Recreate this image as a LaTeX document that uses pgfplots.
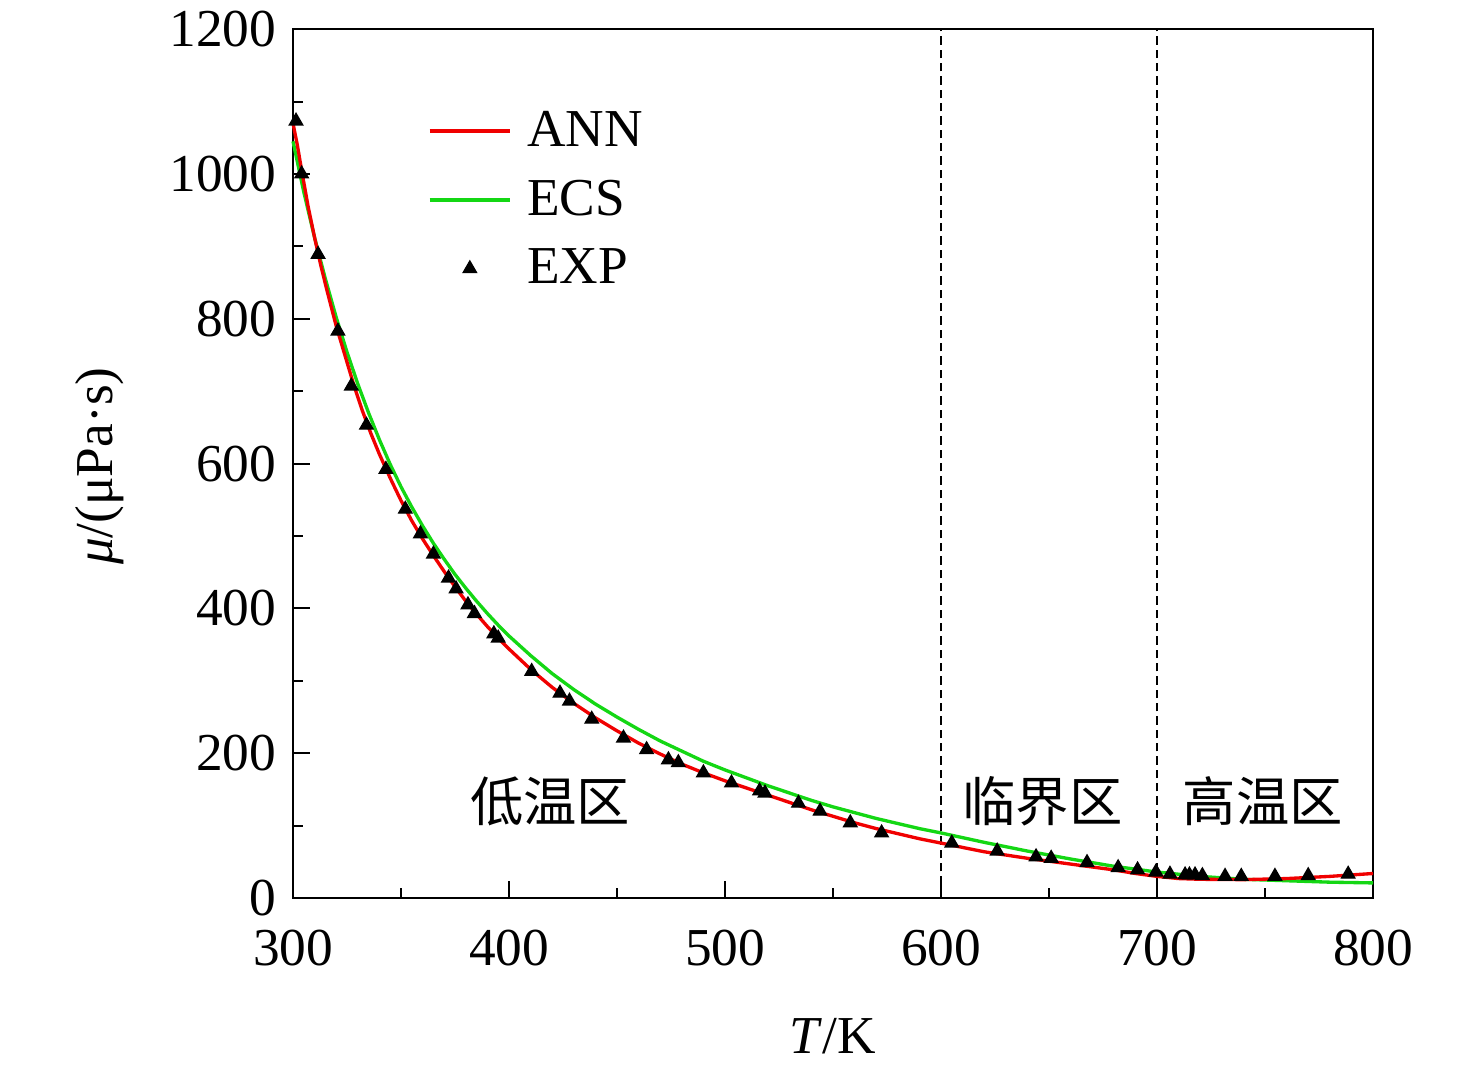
\documentclass[border=0pt]{standalone}
\usepackage{fontspec}
\setmainfont{Liberation Serif}
\newfontfamily\cjk{Noto Sans CJK SC}
\usepackage{pgfplots}
\usepackage{pgfplotstable}
\pgfplotsset{compat=1.18}
\definecolor{annred}{RGB}{240,0,0}
\definecolor{ecsgreen}{RGB}{20,215,20}
\pgfplotsset{
  linelegend/.style={legend image code/.code={\draw[##1] (0cm,0cm) -- (0.85cm,0cm);}},
  marklegend/.style={legend image code/.code={\draw[mark repeat=2,mark phase=2,##1] plot coordinates {(0cm,0cm) (0.425cm,0cm) (0.85cm,0cm)};}},
}

\pgfplotstableread{
T mu
300 1070
302 1040
304 1005
307 955
310 912
313 872
316 836
320 790
324 750
328 710
332 674
336 642
340 613
345 580
350 549
355 521
360 496
365 473
370 451
375 430
380 410
385 392
390 375
395 359
400 344
410 316
420 291
430 269
440 249
450 231
460 214
470 199
480 185
490 173
500 162
510 152
520 142
530 132
540 122
550 113
560 104
570 96
580 89
590 82
600 76
620 64
640 55
660 47
680 39
690 34
700 30
710 27
720 26
740 25.5
760 27
780 30
800 34
}\ann

\pgfplotstableread{
T mu
300 1045
305 975
310 912
315 855
320 802
325 754
330 710
335 670
340 633
345 599
350 568
355 540
360 514
365 490
370 468
375 447
380 428
385 410
390 393
395 377
400 362
410 335
420 310
430 288
440 268
450 250
460 233
470 217
480 203
490 189
500 177
510 166
520 155
530 145
540 135
550 126
560 118
570 110
580 103
590 96
600 90
620 77
640 65
660 54
680 44
700 36
720 30
740 26
760 24
780 22
800 21
}\ecs

\pgfplotstableread{
T mu
301.4 1073
304 1000
311.6 889
320.8 783
327 707
334 653
343 592
352 537
359 503
365 475
372 442
375.5 427
381 405
384 393
393 365
395 359
410.5 313
423.6 283
428 272
438.3 247
453 221
463.7 205
473.8 191
478.4 187
490 173
503 159
516 148
518.5 145
534 131
544 120
558 104
572.5 90
605 76
626 65
644 57
651 55
667.6 49
682 42
691 39
699.5 36
706 33
713 32
715 32
717.6 32
721 31
731.5 30
739 30
754.6 30
770 31
788.5 33
}\expdata

\begin{document}
\begin{tikzpicture}[font=\fontsize{16}{19}\selectfont]
\begin{axis}[
  scale only axis,
  width=324pt, height=260.7pt,
  xmin=300, xmax=800, ymin=0, ymax=1200,
  xtick={300,400,...,800},
  ytick={0,200,...,1200},
  minor x tick num=1, minor y tick num=1,
  tick pos=left,
  tick align=inside,
  major tick length=5pt, minor tick length=3pt,
  axis line style={line width=0.6pt},
  every tick/.style={line width=0.6pt, black},
  /pgf/number format/assume math mode=true,
  /pgf/number format/1000 sep={},
  xticklabel style={yshift=-6pt},
  yticklabel style={xshift=-1.5pt},
  xlabel={\textit{T}/K},
  ylabel={{\itshape μ}/(μPa·s)},
  every axis x label/.style={at={(axis description cs:0.5,-0.159)}, anchor=center},
  every axis y label/.style={at={(axis description cs:-0.179,0.497)}, anchor=center, rotate=90},
  legend style={draw=none, fill=none, at={(axis description cs:0.115,0.922)}, anchor=north west,
    row sep=4.6pt, legend cell align=left,
    /tikz/every odd column/.append style={column sep=2.6pt}},
  clip=false,
]
\addplot[black, line width=0.4pt, dash pattern=on 2.5pt off 1.5pt, forget plot] coordinates {(600,0) (600,1200)};
\addplot[black, line width=0.4pt, dash pattern=on 2.5pt off 1.5pt, forget plot] coordinates {(700,0) (700,1200)};
\addplot[ecsgreen, line width=1pt, forget plot] table[x=T,y=mu] {\ecs};
\addplot[only marks, mark=triangle*, mark size=2.3pt, black, forget plot] table[x=T,y=mu] {\expdata};
\addplot[annred, line width=1pt, forget plot] table[x=T,y=mu] {\ann};

\addlegendimage{annred, line width=1pt, linelegend}
\addlegendentry{ANN}
\addlegendimage{ecsgreen, line width=1pt, linelegend}
\addlegendentry{ECS}
\addlegendimage{only marks, mark=triangle*, mark size=2.3pt, black, marklegend}
\addlegendentry{EXP}

\node[font=\cjk\fontsize{16}{19}\selectfont] at (axis cs:419,134) {低温区};
\node[font=\cjk\fontsize{16}{19}\selectfont] at (axis cs:647,134) {临界区};
\node[font=\cjk\fontsize{16}{19}\selectfont] at (axis cs:749,134) {高温区};
\end{axis}
\path[use as bounding box] ([shift={(-87.9pt,-52.2pt)}]current axis.south west) rectangle ([shift={(30.9pt,8.4pt)}]current axis.north east);
\end{tikzpicture}
\end{document}
